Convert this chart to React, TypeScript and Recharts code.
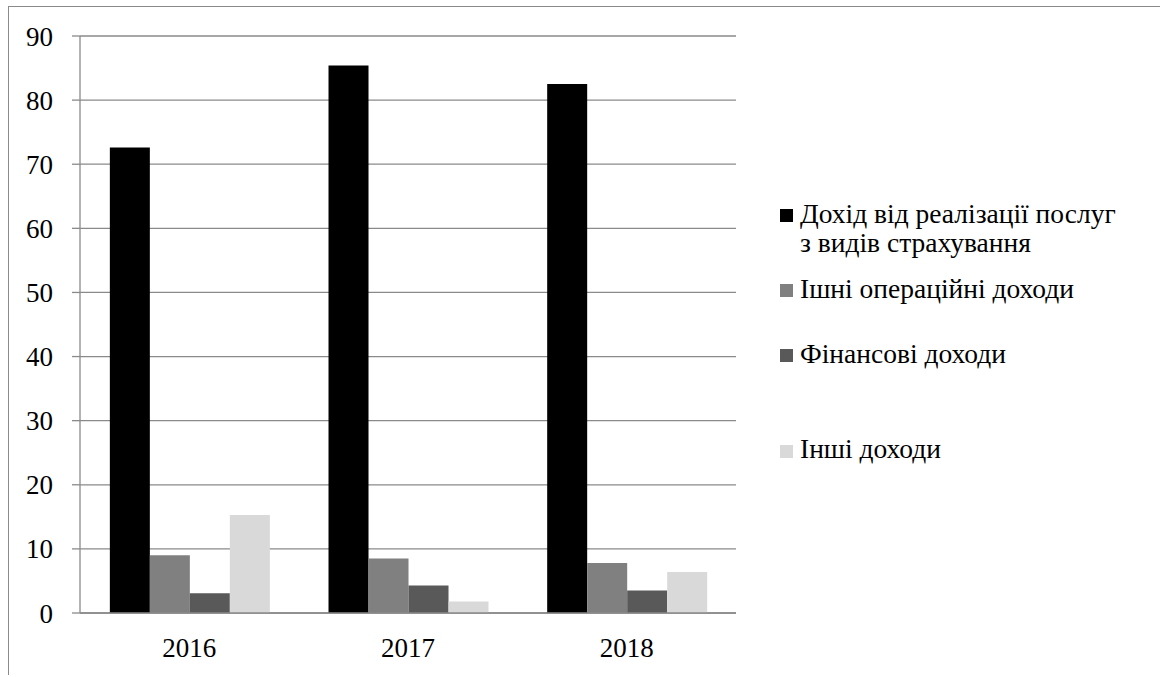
import React from 'react';
import { BarChart, Bar, XAxis, YAxis, CartesianGrid } from 'recharts';

const years = ['2016', '2017', '2018'];
const salesIncome = [72.6, 85.4, 82.5];
const otherOperatingIncome = [9.0, 8.5, 7.8];
const financialIncome = [3.1, 4.3, 3.5];
const otherIncome = [15.3, 1.8, 6.4];

const seriesKeys = ['sales', 'operating', 'financial', 'other'];
const seriesNames = [
  'Дохід від реалізації послуг з видів страхування',
  'Ішні операційні доходи',
  'Фінансові доходи',
  'Інші доходи',
];
const seriesColors = ['#000000', '#808080', '#595959', '#d9d9d9'];
const yTicks = [0, 10, 20, 30, 40, 50, 60, 70, 80, 90];
const edgeTicks = [0, 1, 2, 3];

const data = years.map((year, i) => ({
  year,
  sales: salesIncome[i],
  operating: otherOperatingIncome[i],
  financial: financialIncome[i],
  other: otherIncome[i],
}));

const FONT = "'Liberation Serif', 'Times New Roman', 'Liberation Sans', sans-serif";
const GRID = '#8a8a8a';

// legend layout (positions only)
const legendTextTops = [199, 274, 339, 434];
const legendMarkerTops = [209, 284, 349, 445];

export default function App() {
  return (
    <div style={{ position: 'absolute', left: 0, top: 0, width: 1160, height: 677, background: '#fff', fontFamily: FONT }}>
      <div
        style={{
          position: 'absolute',
          left: 8,
          top: 6,
          width: 1152,
          height: 669,
          borderTop: `1px solid ${GRID}`,
          borderLeft: `1px solid ${GRID}`,
          boxSizing: 'border-box',
        }}
      />
      <div style={{ position: 'absolute', left: 0, top: 0, fontFamily: FONT }}>
        <BarChart
          width={1160}
          height={677}
          data={data}
          margin={{ top: 36, right: 424, bottom: 24, left: 0 }}
          barCategoryGap="13.65%"
          barGap={0}
          style={{ fontFamily: FONT }}
        >
          <CartesianGrid vertical={false} stroke={GRID} strokeWidth={1.3} />
          <XAxis
            xAxisId="edge"
            type="number"
            domain={[0, 3]}
            ticks={edgeTicks}
            tickFormatter={() => ''}
            axisLine={false}
            tickLine={{ stroke: GRID, strokeWidth: 1.3 }}
            tickSize={8}
            height={0}
            allowDataOverflow
          />
          <XAxis
            dataKey="year"
            height={40}
            axisLine={{ stroke: GRID, strokeWidth: 1.3 }}
            tickLine={false}
            tickSize={0}
            tickMargin={25}
            tick={{ fill: '#000', fontSize: 27, style: { fontFamily: FONT } }}
          />
          <YAxis
            width={80}
            domain={[0, 90]}
            ticks={yTicks}
            interval={0}
            axisLine={{ stroke: GRID, strokeWidth: 1.3 }}
            tickLine={{ stroke: GRID, strokeWidth: 1.3 }}
            tickSize={8}
            tickMargin={19}
            tick={{ fill: '#000', fontSize: 27, style: { fontFamily: FONT } }}
          />
          {seriesKeys.map((k, i) => (
            <Bar key={k} dataKey={k} name={seriesNames[i]} fill={seriesColors[i]} isAnimationActive={false} />
          ))}
        </BarChart>
      </div>
      {seriesNames.map((name, i) => (
        <React.Fragment key={name}>
          <div
            style={{
              position: 'absolute',
              left: 780,
              top: legendMarkerTops[i],
              width: 13,
              height: 13,
              background: seriesColors[i],
            }}
          />
          <div
            style={{
              position: 'absolute',
              left: 800,
              top: legendTextTops[i],
              width: 322,
              fontSize: 27.5,
              lineHeight: '29px',
              color: '#000',
              fontFamily: FONT,
            }}
          >
            {name}
          </div>
        </React.Fragment>
      ))}
    </div>
  );
}
